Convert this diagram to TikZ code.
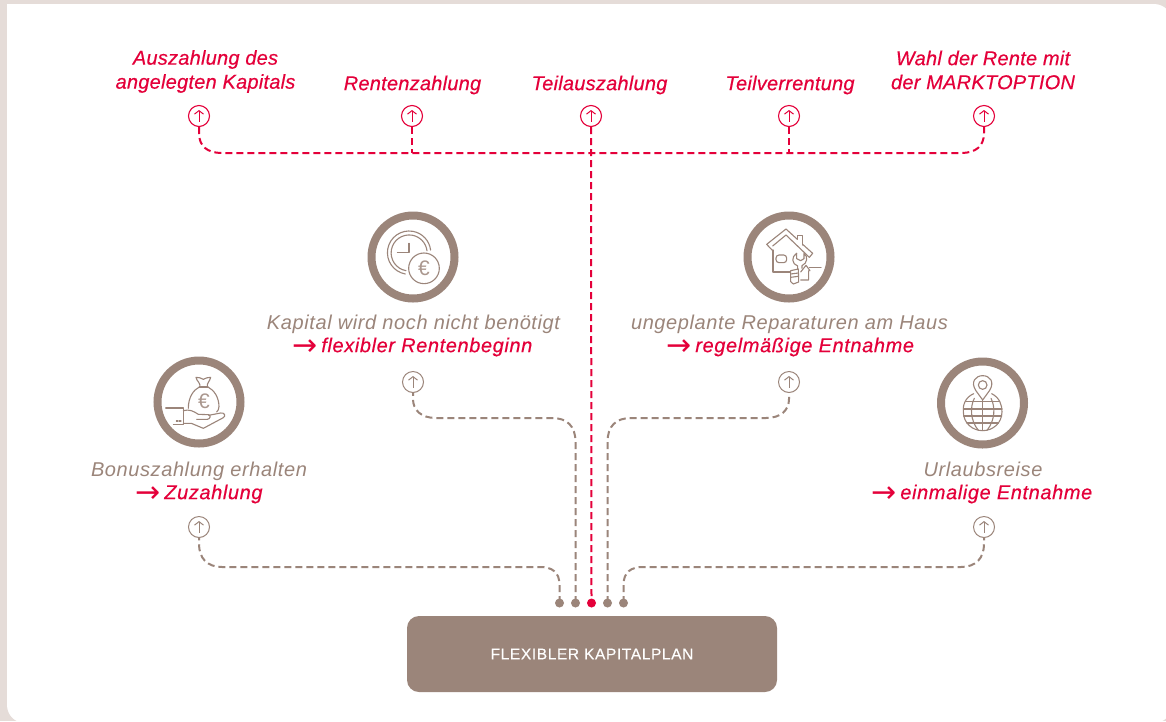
\documentclass[tikz,border=0pt]{standalone}
\usepackage{fontspec}
\setmainfont{Liberation Sans}
\newfontfamily\redface[FakeBold=0.35,LetterSpace=1.2]{Liberation Sans}
\newfontfamily\redfacewide[FakeBold=0.35,LetterSpace=3]{Liberation Sans}
\newfontfamily\taupeface[LetterSpace=3]{Liberation Sans}
\newfontfamily\boxface[FakeBold=0.3,LetterSpace=4]{Liberation Sans}
\newfontfamily\arrowface{DejaVu Sans}
\newcommand{\longarrow}{{\arrowface\fontsize{30}{24}\selectfont\raisebox{-3.5pt}{→}}\hspace{4pt}}
\usetikzlibrary{arrows.meta}
\definecolor{taupe}{HTML}{9B857A}
\definecolor{hotred}{HTML}{E4003A}
\definecolor{beige}{HTML}{E5DCD8}
\tikzset{
 labelred/.style={align=center,text=hotred,font=\redface\itshape\fontsize{20}{24}\selectfont,inner sep=0pt},
 labelredwide/.style={align=center,text=hotred,font=\redfacewide\itshape\fontsize{20}{24}\selectfont,inner sep=0pt},
 labeltaupe/.style={align=center,text=taupe,font=\taupeface\itshape\fontsize{20}{24}\selectfont,inner sep=0pt},
 bigring/.style={circle,draw=taupe,line width=8pt,minimum size=83pt,inner sep=0pt},
 redport/.style={circle,draw=hotred,line width=1.1pt,minimum size=21pt,inner sep=0pt},
 taupeport/.style={circle,draw=taupe,line width=1pt,minimum size=21pt,inner sep=0pt},
 reddash/.style={draw=hotred,line width=2pt,dash pattern=on 7pt off 4pt},
 taupedash/.style={draw=taupe,line width=2pt,dash pattern=on 7pt off 4pt},
 reddot/.style={circle,fill=hotred,minimum size=9pt,inner sep=0pt},
 taupedot/.style={circle,fill=taupe,minimum size=9pt,inner sep=0pt},
 iconline/.style={draw=taupe,line width=1.1pt,line join=round,line cap=round},
 upa/.style={line width=1pt,-{Straight Barb[length=3.5pt,width=9pt]}},
 eurosign/.style={text=taupe!85,inner sep=0pt,font=\fontsize{21}{21}\selectfont},
}
\begin{document}
\begin{tikzpicture}[x=1pt,y=-1pt]
\useasboundingbox (0,0) rectangle (1166,721);
\fill[beige] (0,0) rectangle (1166,721);
\begin{scope}
\clip (0,0) rectangle (1166,721);
\fill[white] (7,4) -- (1154,4) arc[start angle=-90,end angle=0,radius=18] -- (1172,705) arc[start angle=0,end angle=90,radius=18] -- (25,723) arc[start angle=90,end angle=180,radius=18] -- cycle;
\end{scope}

% top labels
\node[labelred] (t1) at (205.5,71.5) {Auszahlung des\\angelegten Kapitals};
\node[labelred] (t2) at (412.5,85) {Rentenzahlung};
\node[labelred] (t3) at (599.5,85) {Teilauszahlung};
\node[labelred] (t4) at (790,85) {Teilverrentung};
\node[labelred] (t5) at (983,70) {Wahl der Rente mit\\der MARKTOPTION};

% top ports
\foreach \n/\x in {p1/199,p2/412,p3/591,p4/789,p5/984}{
  \node[redport] (\n) at (\x,116) {};
  \draw[upa,hotred] (\x,121.5) -- (\x,110);
}
\coordinate (b2) at (412,153);
\coordinate (b4) at (789,153);
\draw[reddash] (p1.south) -- ++(0,6) .. controls (199,146) and (207,153) .. (222,153) -- (961,153) .. controls (976,153) and (984,146) .. (984,133) -- (p5.south);
\draw[reddash] (p2.south) -- (b2);
\draw[reddash] (p4.south) -- (b4);

% middle items
\node[bigring] (r1) at (199,402) {};
\node[bigring] (r2) at (413,257) {};
\node[bigring] (r3) at (789,257) {};
\node[bigring] (r4) at (982.5,403) {};

\node[labeltaupe] (l1) at (199,471) {Bonuszahlung erhalten};
\node[labelredwide,anchor=west] (m1) at (135,494) {\longarrow Zuzahlung};
\node[labeltaupe] (l2) at (413.5,324) {Kapital wird noch nicht benötigt};
\node[labelredwide,anchor=west] (m2) at (292,347) {\longarrow flexibler Rentenbeginn};
\node[labeltaupe] (l3) at (789.5,324) {ungeplante Reparaturen am Haus};
\node[labelredwide,anchor=west] (m3) at (666,347) {\longarrow regelmäßige Entnahme};
\node[labeltaupe] (l4) at (983,469) {Urlaubsreise};
\node[labelredwide,anchor=west] (m4) at (871,494) {\longarrow einmalige Entnahme};

% taupe ports
\foreach \n/\x/\y in {q1/199/527,q2/413/382,q3/789/382,q4/984/527}{
  \node[taupeport] (\n) at (\x,\y) {};
  \draw[upa,taupe] (\x,\y+5.5) -- (\x,\y-6);
}

% box and dots
\node[fill=taupe,rounded corners=12pt,minimum width=370pt,minimum height=76pt,inner sep=0pt,text=white,font=\boxface\fontsize{15.5}{16}\selectfont] (box) at (592,654) {FLEXIBLER KAPITALPLAN};
\node[taupedot] (d1) at (559.5,603) {};
\node[taupedot] (d2) at (575.5,603) {};
\node[reddot] (d3) at (591.5,603) {};
\node[taupedot] (d4) at (607.5,603) {};
\node[taupedot] (d5) at (623.5,603) {};

% connectors
\draw[reddash] (p3.south) -- (d3.center);
\draw[taupedash] (d1.center) -- (559.5,585) .. controls (559.5,572) and (552,567) .. (540,567) -- (222,567) .. controls (207,567) and (199,558) .. (199,544) -- (q1.south);
\draw[taupedash] (d2.center) -- (575.5,442) .. controls (575.5,426) and (567,418) .. (552,418) -- (436,418) .. controls (421,418) and (413,410) .. (413,399) -- (q2.south);
\draw[taupedash] (d4.center) -- (607.5,442) .. controls (607.5,426) and (616,418) .. (631,418) -- (766,418) .. controls (781,418) and (789,410) .. (789,399) -- (q3.south);
\draw[taupedash] (d5.center) -- (623.5,585) .. controls (623.5,572) and (631,567) .. (643,567) -- (961,567) .. controls (976,567) and (984,558) .. (984,544) -- (q4.south);

% icon 1: money bag and hand (coordinates of a 3x crop)
\begin{scope}[shift={(130,340)},x=0.3333pt,y=-0.3333pt]
 \draw[iconline] (208,141) .. controls (190,150) and (175,172) .. (175,205);
 \draw[iconline] (234,141) .. controls (252,150) and (267,172) .. (267,200) .. controls (267,207) and (264,212) .. (260,216);
 \draw[iconline] (208,141) -- (234,141);
 \draw[iconline] (210,141) .. controls (212,128) and (200,124) .. (198,112) .. controls (208,108) and (212,118) .. (220,118) .. controls (228,118) and (232,108) .. (242,112) .. controls (240,124) and (230,128) .. (232,141);
 \draw[iconline] (107,204) -- (160,204) -- (160,254) -- (130,254);
 \draw[iconline] (160,212) .. controls (178,207) and (190,213) .. (205,223) -- (236,224) .. controls (244,226) and (240,238) .. (232,238) -- (200,238);
 \draw[iconline] (236,226) -- (272,219) .. controls (284,217) and (288,228) .. (280,233) -- (220,265) -- (184,250) -- (160,250);
 \draw[iconline] (139,243) -- (144,243) (148,243) -- (153,243);
 \node[eurosign] (e1) at (222,185) {€};
\end{scope}

% icon 2: clock and coin
\begin{scope}[shift={(350,200)},x=0.3333pt,y=-0.3333pt]
 \draw[iconline] (166,222) arc[start angle=100,end angle=353,radius=65];
 \draw[iconline] (168,212) arc[start angle=100,end angle=353,radius=54];
 \draw[iconline] (177,130) -- (177,157) -- (142,157);
 \draw[iconline] (222,205) circle[radius=46];
 \node[eurosign] (e2) at (222,205) {€};
\end{scope}

% icon 3: house and tools
\begin{scope}[shift={(730,200)},x=0.3333pt,y=-0.3333pt]
 \draw[iconline] (128,152) -- (110,133) -- (168,87) -- (202,118) (218,133) -- (248,160) -- (238,172) -- (168,105) -- (128,138);
 \draw[iconline] (202,118) -- (202,107) -- (218,107) -- (218,135);
 \draw[iconline] (129,150) -- (129,216) -- (180,216);
 \draw[iconline,rounded corners=3pt] (138,165) rectangle (170,188);
 \draw[iconline] (200,160) .. controls (183,170) and (185,192) .. (203,198) -- (203,208);
 \draw[iconline] (200,160) -- (200,176) -- (212,182) -- (222,176) -- (222,160) .. controls (235,170) and (232,190) .. (216,197) -- (216,205);
 \draw[iconline] (182,212) -- (205,207) -- (206,246) -- (190,252) -- (182,245) -- cycle;
 \draw[iconline] (182,222) -- (205,219) (182,232) -- (205,229);
 \draw[iconline] (212,216) -- (228,196) -- (240,212) -- (236,212) -- (236,240) -- (212,240);
 \draw[iconline] (238,203) -- (273,203);
\end{scope}

% icon 4: pin and globe
\begin{scope}[shift={(925,345)},x=0.3333pt,y=-0.3333pt]
 \draw[iconline] (173,165) -- (152,136) .. controls (136,110) and (152,92) .. (173,92) .. controls (194,92) and (210,110) .. (194,136) -- cycle;
 \draw[iconline] (173,120) circle[radius=13];
 \draw[iconline] (146,146) .. controls (118,158) and (113,185) .. (115,200) .. controls (115,235) and (143,257) .. (173,257) .. controls (203,257) and (231,235) .. (231,200) .. controls (231,180) and (224,158) .. (200,146);
 \draw[iconline] (148,160) .. controls (135,185) and (135,225) .. (160,256);
 \draw[iconline] (198,160) .. controls (211,185) and (211,225) .. (186,256);
 \draw[iconline] (173,165) -- (173,257);
 \draw[iconline] (122,170) -- (224,170) (115,192) -- (231,192) (116,213) -- (230,213) (126,234) -- (220,234);
\end{scope}
\end{tikzpicture}
\end{document}
